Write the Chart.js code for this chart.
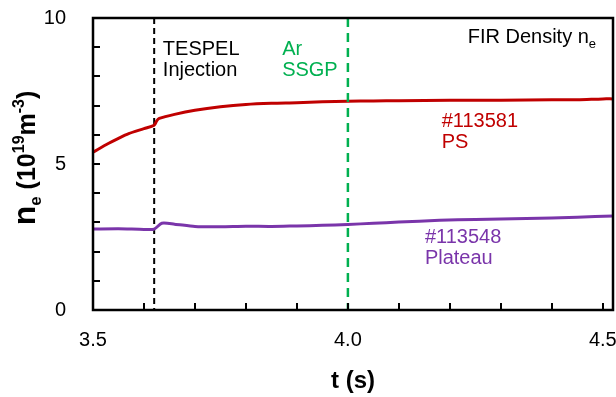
<!DOCTYPE html>
<html>
<head>
<meta charset="utf-8">
<script src="https://cdn.jsdelivr.net/npm/chart.js@4.4.1/dist/chart.umd.min.js"></script>
<style>
  html, body { margin: 0; padding: 0; background: #fff; }
  #wrap { width: 616px; height: 397px; }
</style>
</head>
<body>
<div id="wrap"><canvas id="fir"></canvas></div>
<script>
// FIR line-averaged density for the two discharges
const timePS = [3.50, 3.53, 3.55, 3.57, 3.60, 3.62, 3.625, 3.63, 3.66, 3.70, 3.75, 3.80, 3.85, 3.90, 3.95, 4.00, 4.05, 4.10, 4.20, 4.30, 4.40, 4.45, 4.50, 4.52];
const densityPS = [5.40, 5.70, 5.88, 6.04, 6.21, 6.33, 6.48, 6.56, 6.70, 6.84, 6.96, 7.04, 7.08, 7.10, 7.13, 7.15, 7.16, 7.17, 7.18, 7.18, 7.20, 7.20, 7.23, 7.23];
const timePlateau = [3.50, 3.55, 3.60, 3.62, 3.635, 3.66, 3.70, 3.75, 3.80, 3.85, 3.90, 3.95, 4.00, 4.05, 4.10, 4.18, 4.25, 4.35, 4.45, 4.52];
const densityPlateau = [2.77, 2.78, 2.76, 2.77, 2.97, 2.94, 2.86, 2.85, 2.87, 2.86, 2.88, 2.90, 2.93, 2.97, 3.01, 3.07, 3.10, 3.13, 3.18, 3.22];

const xTicks = [3.5, 4.0, 4.5];
const yTicks = [0, 5, 10];
const xMinor = [3.6, 3.7, 3.8, 3.9, 4.0, 4.1, 4.2, 4.3, 4.4, 4.5];
const yMinor = [1, 2, 3, 4, 5, 6, 7, 8, 9];

const tespelTime = 3.62;
const ssgpTime = 4.0;

const RED = '#c00000';
const PURPLE = '#7a35aa';
const GREEN = '#00b050';
const FONT = '"Liberation Sans", Arial, sans-serif';

const toXY = (xs, ys) => xs.map((x, i) => ({ x, y: ys[i] }));

// keep edge tick labels from shrinking the plot area
const noEdgePadding = s => {
  s.paddingLeft = 0; s.paddingRight = 0;
  s.paddingTop = 0; s.paddingBottom = 0;
};

function vline(chart, t, color, dash, width) {
  const { ctx, chartArea, scales } = chart;
  const px = scales.x.getPixelForValue(t);
  ctx.save();
  ctx.strokeStyle = color;
  ctx.lineWidth = width;
  ctx.setLineDash(dash);
  ctx.beginPath();
  ctx.moveTo(px, chartArea.top);
  ctx.lineTo(px, chartArea.bottom);
  ctx.stroke();
  ctx.restore();
}

// text made of runs: [text, size, weight, baseline shift]
function runs(ctx, x, y, parts, color) {
  ctx.fillStyle = color;
  ctx.textBaseline = 'alphabetic';
  ctx.textAlign = 'left';
  let cx = x;
  for (const [t, size, weight, dy] of parts) {
    ctx.font = `${weight} ${size}px ${FONT}`;
    ctx.fillText(t, cx, y + dy);
    cx += ctx.measureText(t).width;
  }
}

function runsWidth(ctx, parts) {
  let w = 0;
  for (const [t, size, weight] of parts) {
    ctx.font = `${weight} ${size}px ${FONT}`;
    w += ctx.measureText(t).width;
  }
  return w;
}

function label(chart, t, v, lines, color) {
  const { ctx, scales } = chart;
  const x = scales.x.getPixelForValue(t);
  const y = scales.y.getPixelForValue(v);
  ctx.save();
  ctx.font = `20px ${FONT}`;
  ctx.fillStyle = color;
  ctx.textBaseline = 'alphabetic';
  lines.forEach((s, i) => ctx.fillText(s, x, y + i * 21));
  ctx.restore();
}

const decorations = {
  id: 'decorations',
  beforeDatasetsDraw(chart) {
    vline(chart, tespelTime, '#000', [6, 4], 2);
  },
  afterDatasetsDraw(chart) {
    const { ctx, chartArea: a, scales } = chart;
    vline(chart, ssgpTime, GREEN, [9, 6], 2.5);

    // inward tick marks
    ctx.save();
    ctx.strokeStyle = '#000';
    ctx.lineWidth = 2;
    ctx.beginPath();
    xMinor.forEach(v => {
      const px = Math.round(scales.x.getPixelForValue(v));
      ctx.moveTo(px, a.bottom);
      ctx.lineTo(px, a.bottom - 7);
    });
    yMinor.forEach(v => {
      const py = Math.round(scales.y.getPixelForValue(v));
      ctx.moveTo(a.left, py);
      ctx.lineTo(a.left + 7, py);
    });
    ctx.stroke();

    // frame
    ctx.lineWidth = 2.5;
    ctx.strokeRect(a.left, a.top, a.right - a.left, a.bottom - a.top);
    ctx.restore();
  },
  afterDraw(chart) {
    const { ctx, scales, chartArea: a } = chart;
    ctx.save();
    label(chart, 3.637, 8.73, ['TESPEL', 'Injection'], '#000');
    label(chart, 3.871, 8.73, ['Ar', 'SSGP'], GREEN);
    label(chart, 4.184, 6.27, ['#113581', 'PS'], RED);
    label(chart, 4.151, 2.29, ['#113548', 'Plateau'], PURPLE);

    runs(ctx, scales.x.getPixelForValue(4.235), scales.y.getPixelForValue(9.14), [
      ['FIR Density n', 20, 'normal', 0],
      ['e', 13, 'normal', 5]
    ], '#000');

    // y-axis title, rotated
    const title = [
      ['n', 32, 'bold', 0],
      ['e', 17, 'bold', 6],
      [' (10', 25, 'bold', 0],
      ['19', 16, 'bold', -11],
      ['m', 25, 'bold', 0],
      ['-3', 16, 'bold', -11],
      [')', 25, 'bold', 0]
    ];
    const w = runsWidth(ctx, title);
    ctx.translate(35, (a.top + a.bottom) / 2 - 6);
    ctx.rotate(-Math.PI / 2);
    runs(ctx, -w / 2, 0, title, '#000');
    ctx.restore();
  }
};

new Chart(document.getElementById('fir'), {
  type: 'line',
  data: {
    datasets: [
      {
        label: '#113581 PS',
        data: toXY(timePS, densityPS),
        borderColor: RED,
        borderWidth: 3,
        pointRadius: 0,
        tension: 0.3
      },
      {
        label: '#113548 Plateau',
        data: toXY(timePlateau, densityPlateau),
        borderColor: PURPLE,
        borderWidth: 3,
        pointRadius: 0,
        tension: 0.25
      }
    ]
  },
  options: {
    responsive: true,
    maintainAspectRatio: false,
    animation: false,
    layout: { padding: { top: 18, right: 3, left: 0, bottom: 0 } },
    plugins: { legend: { display: false }, tooltip: { enabled: false } },
    scales: {
      x: {
        type: 'linear',
        min: 3.5, max: 4.52,
        afterBuildTicks: s => { s.ticks = xTicks.map(value => ({ value })); },
        afterFit: s => { s.height = 87; noEdgePadding(s); },
        grid: { display: false, drawTicks: false },
        border: { display: false },
        ticks: {
          padding: 18,
          color: '#000',
          font: { family: FONT, size: 20 },
          maxRotation: 0,
          callback: v => v.toFixed(1)
        },
        title: {
          display: true,
          text: 't (s)',
          color: '#000',
          font: { family: FONT, size: 24, weight: 'bold' },
          padding: { top: 0, bottom: 1 }
        }
      },
      y: {
        min: 0, max: 10,
        afterBuildTicks: s => { s.ticks = yTicks.map(value => ({ value })); },
        afterFit: s => { s.width = 93; noEdgePadding(s); },
        grid: { display: false, drawTicks: false },
        border: { display: false },
        ticks: {
          padding: 27,
          color: '#000',
          font: { family: FONT, size: 20 },
          callback: v => String(v)
        }
      }
    }
  },
  plugins: [decorations]
});
</script>
</body>
</html>
